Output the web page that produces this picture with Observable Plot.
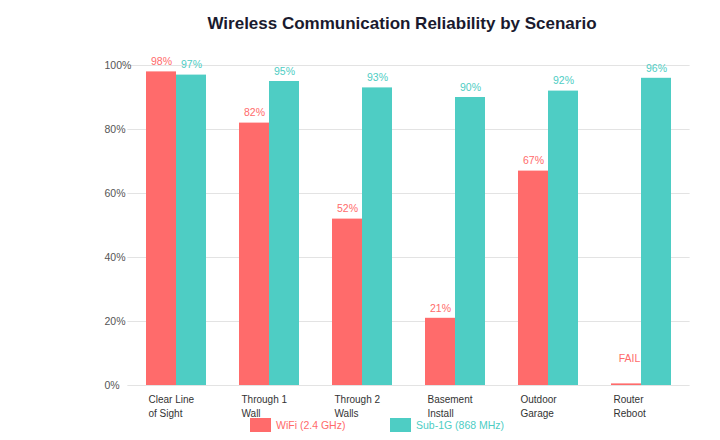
<!DOCTYPE html>
<html><head><meta charset="utf-8">
<script src="https://cdn.jsdelivr.net/npm/d3@7"></script>
<script src="https://cdn.jsdelivr.net/npm/@observablehq/plot@0.6"></script>
<style>
body{margin:0;background:#fff;font-family:"Liberation Sans",Arial,sans-serif;}
#wrap{position:relative;width:720px;height:440px;overflow:hidden;}
#title{height:45px;box-sizing:border-box;padding-top:14px;padding-left:84px;text-align:center;font-size:17px;font-weight:bold;line-height:20px;color:#1a1a2e;}
#chart svg{display:block;}
#legend{position:absolute;top:418px;left:0;width:720px;height:15px;font-size:10.5px;}
.item{position:absolute;top:0;display:flex;align-items:center;height:14px;}
.sw{width:21px;height:14px;margin-right:5px;}
</style></head><body>
<div id="wrap">
  <div id="title">Wireless Communication Reliability by Scenario</div>
  <div id="chart"></div>
  <div id="legend"></div>
</div>
<script>
const scenarios = ["Clear Line\nof Sight", "Through 1\nWall", "Through 2\nWalls", "Basement\nInstall", "Outdoor\nGarage", "Router\nReboot"];
const seriesNames = ["WiFi (2.4 GHz)", "Sub-1G (868 MHz)"];
const wifiValues = [98, 82, 52, 21, 67, 0.5];
const sub1gValues = [97, 95, 93, 90, 92, 96];
const wifiLabels = ["98%", "82%", "52%", "21%", "67%", "FAIL"];
const sub1gLabels = ["97%", "95%", "93%", "90%", "92%", "96%"];
const yTicks = [0, 20, 40, 60, 80, 100];
const colors = ["#ff6b6b", "#4ecdc4"];

const rows = [];
scenarios.forEach((s, i) => {
  rows.push({scenario: s, series: seriesNames[0], value: wifiValues[i], label: wifiLabels[i]});
  rows.push({scenario: s, series: seriesNames[1], value: sub1gValues[i], label: sub1gLabels[i]});
});
const normal = rows.filter(d => d.label !== "FAIL");
const failed = rows.filter(d => d.label === "FAIL");
const catRows = scenarios.map(s => ({scenario: s}));

const W = 720, mL = 127, mR = 30, pIn = 0.35, pOut = 0.2;
const step = (W - mL - mR) / (scenarios.length - pIn + 2 * pOut);
const ext = -step * pOut; // extend grid rules across the gaps between facets

const chart = Plot.plot({
  width: W,
  height: 395,
  marginTop: 20,
  marginBottom: 55,
  marginLeft: mL,
  marginRight: mR,
  style: {fontFamily: "'Liberation Sans', Arial, sans-serif", background: "#fff"},
  fx: {domain: scenarios, paddingInner: pIn, paddingOuter: pOut, axis: null, label: null},
  x: {domain: seriesNames, padding: 0, axis: null},
  y: {domain: [0, 100], axis: null},
  color: {domain: seriesNames, range: colors},
  marks: [
    Plot.ruleY(yTicks, {stroke: "#e3e3e3", strokeWidth: 1, insetLeft: ext, insetRight: ext}),
    Plot.axisY(yTicks, {tickSize: 0, tickPadding: 42, textAnchor: "start", tickFormat: d => d + "%", fontSize: 10.5, fill: "#555", label: null}),
    Plot.barY(rows, {fx: "scenario", x: "series", y: "value", fill: "series"}),
    Plot.text(normal, {fx: "scenario", x: "series", y: "value", text: "label", fill: "series", dy: -10, fontSize: 10.5}),
    Plot.text(failed, {fx: "scenario", x: "series", y: "value", text: "label", fill: "series", dy: -25, dx: 3, fontSize: 10.5}),
    Plot.text(catRows, {fx: "scenario", text: "scenario", frameAnchor: "bottom-left", textAnchor: "start", lineAnchor: "top", dx: 2, dy: 8, fontSize: 10, lineHeight: 1.4, fill: "#333"})
  ]
});
document.getElementById("chart").appendChild(chart);

const legend = document.getElementById("legend");
const legendLeft = [250, 390];
seriesNames.forEach((name, i) => {
  const item = document.createElement("div");
  item.className = "item";
  item.style.left = legendLeft[i] + "px";
  item.innerHTML = `<div class="sw" style="background:${colors[i]}"></div><span style="color:${colors[i]}">${name}</span>`;
  legend.appendChild(item);
});
</script>
</body></html>
